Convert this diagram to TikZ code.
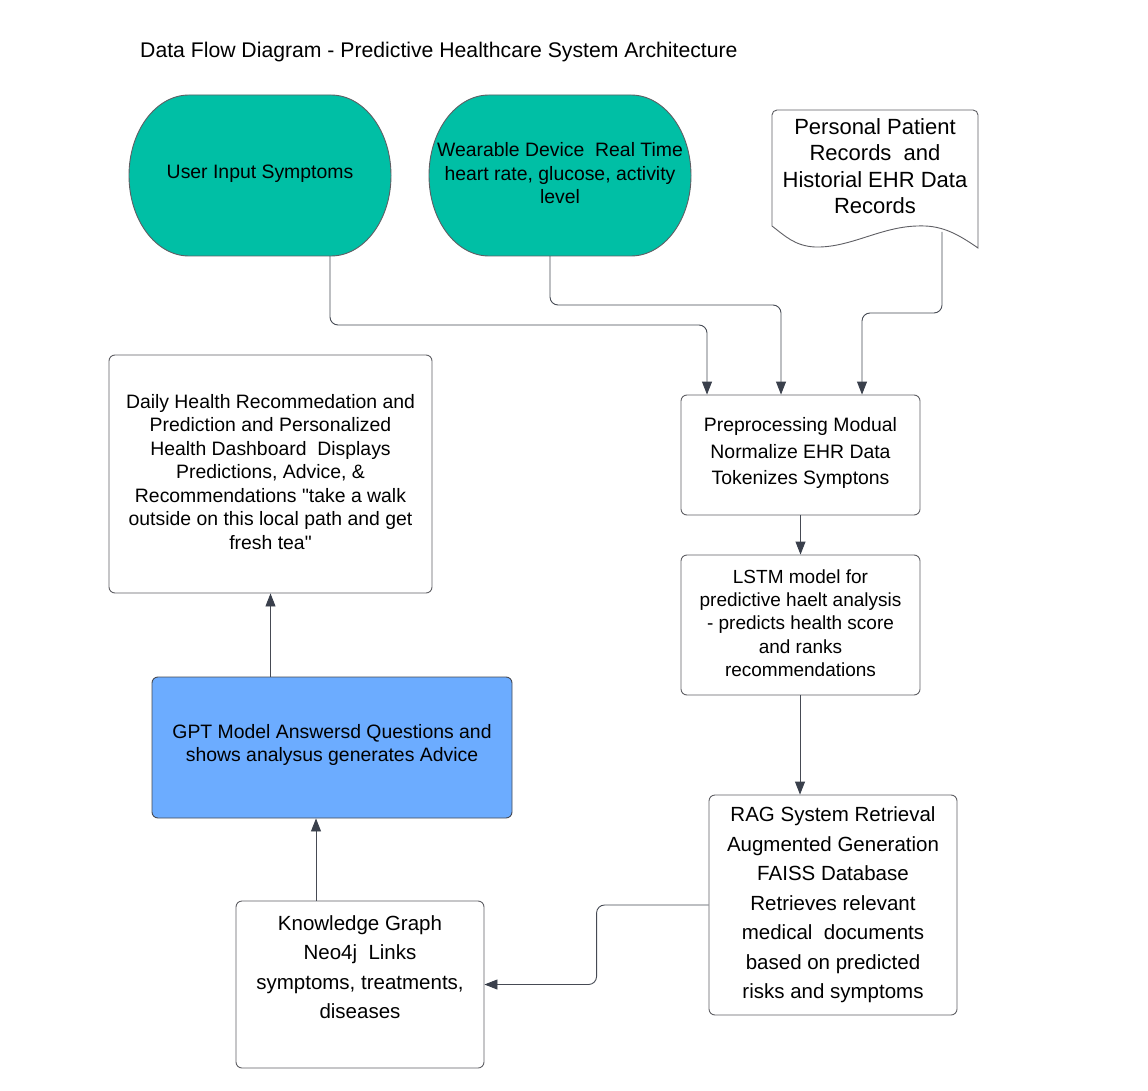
\documentclass[tikz,border=0pt]{standalone}
\usepackage{fontspec}
\setmainfont{Liberation Sans}
\usetikzlibrary{arrows.meta}
\newcommand\straightdq{\XeTeXglyph\XeTeXglyphindex "quotedbl"\relax}
\definecolor{tealfill}{RGB}{0,191,165}
\definecolor{bluefill}{RGB}{108,172,255}
\definecolor{boxline}{RGB}{95,95,100}
\definecolor{connline}{RGB}{70,74,84}
\definecolor{tipcol}{RGB}{58,64,76}
\begin{document}
\begin{tikzpicture}[x=1pt,y=-1pt,
  box/.style={draw=boxline, line width=0.9pt, rounded corners=6pt, inner sep=0pt},
  txt/.style={align=center, inner sep=0pt, font=\fontsize{19.4}{23.5}\selectfont},
  bigtxt/.style={align=center, inner sep=0pt, font=\fontsize{20.5}{29.5}\selectfont},
  conn/.style={draw=connline, line width=0.9pt, rounded corners=8pt,
    -{Triangle[length=13pt,width=10pt,fill=tipcol,color=tipcol]}},
  stadium/.style={draw=boxline, line width=0.9pt, fill=tealfill}]
\useasboundingbox (0,0) rectangle (1148,1091);
\fill[white] (0,0) rectangle (1148,1091);

% title
\node[anchor=base west, inner sep=0pt, font=\fontsize{21.2}{25}\selectfont] (title) at (140,58)
  {Data Flow Diagram - Predictive Healthcare System Architecture};

% stadium 1
\path[stadium] (189,95) -- (331,95) arc[start angle=-90,end angle=90,x radius=60,y radius=80.5]
  -- (189,256) arc[start angle=90,end angle=270,x radius=60,y radius=80.5] -- cycle;
\node[minimum width=262pt, minimum height=161pt, inner sep=0pt] (user) at (260,175.5) {};
\node[txt] (usertxt) at (260,174) {User Input Symptoms};

% stadium 2
\path[stadium] (489,95) -- (631,95) arc[start angle=-90,end angle=90,x radius=60,y radius=80.5]
  -- (489,256) arc[start angle=90,end angle=270,x radius=60,y radius=80.5] -- cycle;
\node[minimum width=262pt, minimum height=161pt, inner sep=0pt] (wear) at (560,175.5) {};
\node[txt] (weartxt) at (560,173.5) {Wearable Device\ \ Real Time\\heart rate, glucose, activity\\level};

% document shape
\path[draw=boxline, line width=0.9pt, fill=white]
  (772,226) -- (772,115) arc[start angle=180,end angle=270,radius=5] -- (973,110)
  arc[start angle=-90,end angle=0,radius=5] -- (978,248)
  .. controls (955,232) and (940,225) .. (917,226)
  .. controls (880,227) and (850,248) .. (815,247)
  .. controls (795,246) and (785,236) .. (772,226) -- cycle;
\node[bigtxt, font=\fontsize{22}{26.5}\selectfont] (doc) at (875,166) {Personal Patient\\Records\ \ and\\Historial EHR Data\\Records};
\coordinate (docout) at (942,232);

% boxes
\node[box, minimum width=239pt, minimum height=120pt] (pre) at (800.5,455) {};
\node[txt, font=\fontsize{19.4}{26.5}\selectfont] (pretxt) at (800.5,453) {Preprocessing Modual\\Normalize EHR Data\\Tokenizes Symptons};

\node[box, minimum width=239pt, minimum height=140pt] (lstm) at (800.5,625) {};
\node[txt, font=\fontsize{19}{23.3}\selectfont] (lstmtxt) at (800.5,623) {LSTM model for\\predictive haelt analysis\\- predicts health score\\and ranks\\recommendations};

\node[box, minimum width=248pt, minimum height=220pt] (rag) at (833,905) {};
\node[bigtxt] (ragtxt) at (833,905) {RAG System Retrieval\\Augmented Generation\\FAISS Database\\Retrieves relevant\\medical\ \ documents\\based on predicted\\risks and symptoms};

\node[box, minimum width=248pt, minimum height=167pt] (kg) at (360,984.5) {};
\node[bigtxt] (kgtxt) at (360,967) {Knowledge Graph\\Neo4j\ \ Links\\symptoms, treatments,\\diseases};

\node[box, fill=bluefill, draw=connline, minimum width=360pt, minimum height=141pt] (gpt) at (332,747.5) {};
\node[txt, font=\fontsize{19.4}{23}\selectfont] (gpttxt) at (332,745) {GPT Model Answersd Questions and\\shows analysus generates Advice};

\node[box, minimum width=323pt, minimum height=238pt] (daily) at (270.5,474) {};
\node[txt] (dailytxt) at (270.5,472) {Daily Health Recommedation and\\Prediction and Personalized\\Health Dashboard\ \ Displays\\Predictions, Advice, \&\\Recommendations \straightdq take a walk\\outside on this local path and get\\fresh tea\straightdq};

% connectors
\draw[conn] ([xshift=70pt]user.south) |- (707,325) -- ([xshift=-93.5pt]pre.north);
\draw[conn] ([xshift=-10pt]wear.south) |- (781,305) -- ([xshift=-19.5pt]pre.north);
\draw[conn] (docout) |- (862,313) -- ([xshift=61.5pt]pre.north);
\draw[conn] (pre.south) -- (lstm.north);
\draw[conn] ([xshift=-0.5pt]lstm.south) -- ([xshift=-0.5pt]lstm.south |- rag.north);
\draw[conn] (rag.west) -- ++(-112,0) |- (kg.east);
\draw[conn] ([xshift=-44pt]kg.north) -- ([xshift=-44pt]kg.north |- gpt.south);
\draw[conn] (daily.south |- gpt.north) -- (daily.south);
\end{tikzpicture}
\end{document}
